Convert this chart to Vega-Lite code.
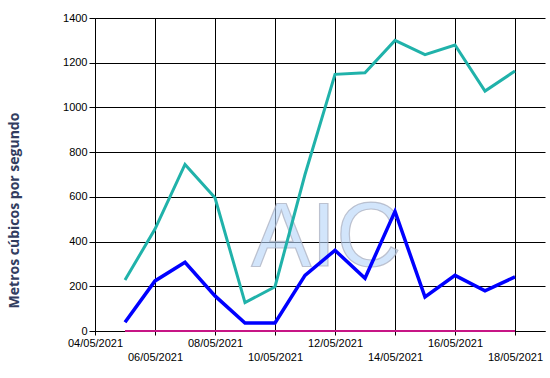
{
  "$schema": "https://vega.github.io/schema/vega-lite/v6.json",
  "width": 450,
  "height": 313,
  "autosize": {"type": "none"},
  "padding": {"left": 95, "top": 18, "right": 5, "bottom": 47},
  "background": "white",
  "config": {
    "view": {"stroke": null},
    "axis": {
      "domainColor": "#000000",
      "domainWidth": 1,
      "gridColor": "#000000",
      "gridOpacity": 1,
      "gridWidth": 1,
      "tickColor": "#000000",
      "labelColor": "#000000",
      "labelFont": "Liberation Sans",
      "labelFontSize": 11
    }
  },
  "datasets": {
    "series": [
      {"date": "2021-05-05", "serie": "Serie 1", "value": 228},
      {"date": "2021-05-06", "serie": "Serie 1", "value": 456},
      {"date": "2021-05-07", "serie": "Serie 1", "value": 745},
      {"date": "2021-05-08", "serie": "Serie 1", "value": 596},
      {"date": "2021-05-09", "serie": "Serie 1", "value": 127},
      {"date": "2021-05-10", "serie": "Serie 1", "value": 198},
      {"date": "2021-05-11", "serie": "Serie 1", "value": 700},
      {"date": "2021-05-12", "serie": "Serie 1", "value": 1148},
      {"date": "2021-05-13", "serie": "Serie 1", "value": 1155},
      {"date": "2021-05-14", "serie": "Serie 1", "value": 1300},
      {"date": "2021-05-15", "serie": "Serie 1", "value": 1236},
      {"date": "2021-05-16", "serie": "Serie 1", "value": 1279},
      {"date": "2021-05-17", "serie": "Serie 1", "value": 1073},
      {"date": "2021-05-18", "serie": "Serie 1", "value": 1163},
      {"date": "2021-05-05", "serie": "Serie 2", "value": 39},
      {"date": "2021-05-06", "serie": "Serie 2", "value": 224},
      {"date": "2021-05-07", "serie": "Serie 2", "value": 307},
      {"date": "2021-05-08", "serie": "Serie 2", "value": 157},
      {"date": "2021-05-09", "serie": "Serie 2", "value": 36},
      {"date": "2021-05-10", "serie": "Serie 2", "value": 36},
      {"date": "2021-05-11", "serie": "Serie 2", "value": 249},
      {"date": "2021-05-12", "serie": "Serie 2", "value": 361},
      {"date": "2021-05-13", "serie": "Serie 2", "value": 236},
      {"date": "2021-05-14", "serie": "Serie 2", "value": 535},
      {"date": "2021-05-15", "serie": "Serie 2", "value": 152},
      {"date": "2021-05-16", "serie": "Serie 2", "value": 249},
      {"date": "2021-05-17", "serie": "Serie 2", "value": 180},
      {"date": "2021-05-18", "serie": "Serie 2", "value": 242},
      {"date": "2021-05-05", "serie": "Serie 3", "value": 0},
      {"date": "2021-05-06", "serie": "Serie 3", "value": 0},
      {"date": "2021-05-07", "serie": "Serie 3", "value": 0},
      {"date": "2021-05-08", "serie": "Serie 3", "value": 0},
      {"date": "2021-05-09", "serie": "Serie 3", "value": 0},
      {"date": "2021-05-10", "serie": "Serie 3", "value": 0},
      {"date": "2021-05-11", "serie": "Serie 3", "value": 0},
      {"date": "2021-05-12", "serie": "Serie 3", "value": 0},
      {"date": "2021-05-13", "serie": "Serie 3", "value": 0},
      {"date": "2021-05-14", "serie": "Serie 3", "value": 0},
      {"date": "2021-05-15", "serie": "Serie 3", "value": 0},
      {"date": "2021-05-16", "serie": "Serie 3", "value": 0},
      {"date": "2021-05-17", "serie": "Serie 3", "value": 0},
      {"date": "2021-05-18", "serie": "Serie 3", "value": 0}
    ],
    "logo": [{"label": "AIC", "date": "2021-05-11T17:00:00Z", "value": 290}]
  },
  "data": {"name": "series"},
  "encoding": {
    "x": {
      "field": "date",
      "type": "temporal",
      "scale": {
        "type": "utc",
        "domain": [
          {"year": 2021, "month": 5, "date": 4, "utc": true},
          {"year": 2021, "month": 5, "date": 19, "utc": true}
        ]
      },
      "axis": {
        "title": null,
        "grid": true,
        "tickSize": 4,
        "labelPadding": 2,
        "labelAngle": 0,
        "labelAlign": "center",
        "labelBaseline": "top",
        "labelLineHeight": 14,
        "labelOverlap": false,
        "values": [
          {"year": 2021, "month": 5, "date": 4, "utc": true},
          {"year": 2021, "month": 5, "date": 6, "utc": true},
          {"year": 2021, "month": 5, "date": 8, "utc": true},
          {"year": 2021, "month": 5, "date": 10, "utc": true},
          {"year": 2021, "month": 5, "date": 12, "utc": true},
          {"year": 2021, "month": 5, "date": 14, "utc": true},
          {"year": 2021, "month": 5, "date": 16, "utc": true},
          {"year": 2021, "month": 5, "date": 18, "utc": true}
        ],
        "labelExpr": "utcdate(datum.value) % 4 == 2 ? ['', utcFormat(datum.value, '%d/%m/%Y')] : utcFormat(datum.value, '%d/%m/%Y')"
      }
    },
    "y": {
      "field": "value",
      "type": "quantitative",
      "scale": {"domain": [0, 1400], "nice": false},
      "axis": {
        "title": "Metros cúbicos por segundo",
        "values": [0, 200, 400, 600, 800, 1000, 1200, 1400],
        "format": "d",
        "grid": true,
        "tickSize": 6,
        "labelPadding": 2,
        "titleFont": "Open Sans",
        "titleFontSize": 14,
        "titleFontWeight": "bold",
        "titleColor": "#323D5F",
        "titleX": -81,
        "titleY": 192,
        "titleAngle": -90,
        "titleAlign": "center",
        "titleBaseline": "middle"
      }
    }
  },
  "layer": [
    {
      "data": {"name": "logo"},
      "mark": {
        "type": "text",
        "font": "Liberation Sans",
        "fontSize": 90,
        "fill": "#B4D4F8",
        "fillOpacity": 0.6,
        "stroke": "#A8ACBC",
        "strokeWidth": 1.2,
        "strokeOpacity": 0.7,
        "align": "center",
        "baseline": "alphabetic"
      },
      "encoding": {
        "text": {"field": "label", "type": "nominal"}
      }
    },
    {
      "transform": [{"filter": "datum.serie == 'Serie 1'"}],
      "mark": {"type": "line", "color": "#20B2AA", "strokeWidth": 3},
      "encoding": {}
    },
    {
      "transform": [{"filter": "datum.serie == 'Serie 2'"}],
      "mark": {"type": "line", "color": "#0000FF", "strokeWidth": 3.5},
      "encoding": {}
    },
    {
      "transform": [{"filter": "datum.serie == 'Serie 3'"}],
      "mark": {"type": "line", "color": "#C71585", "strokeWidth": 2},
      "encoding": {}
    }
  ]
}
